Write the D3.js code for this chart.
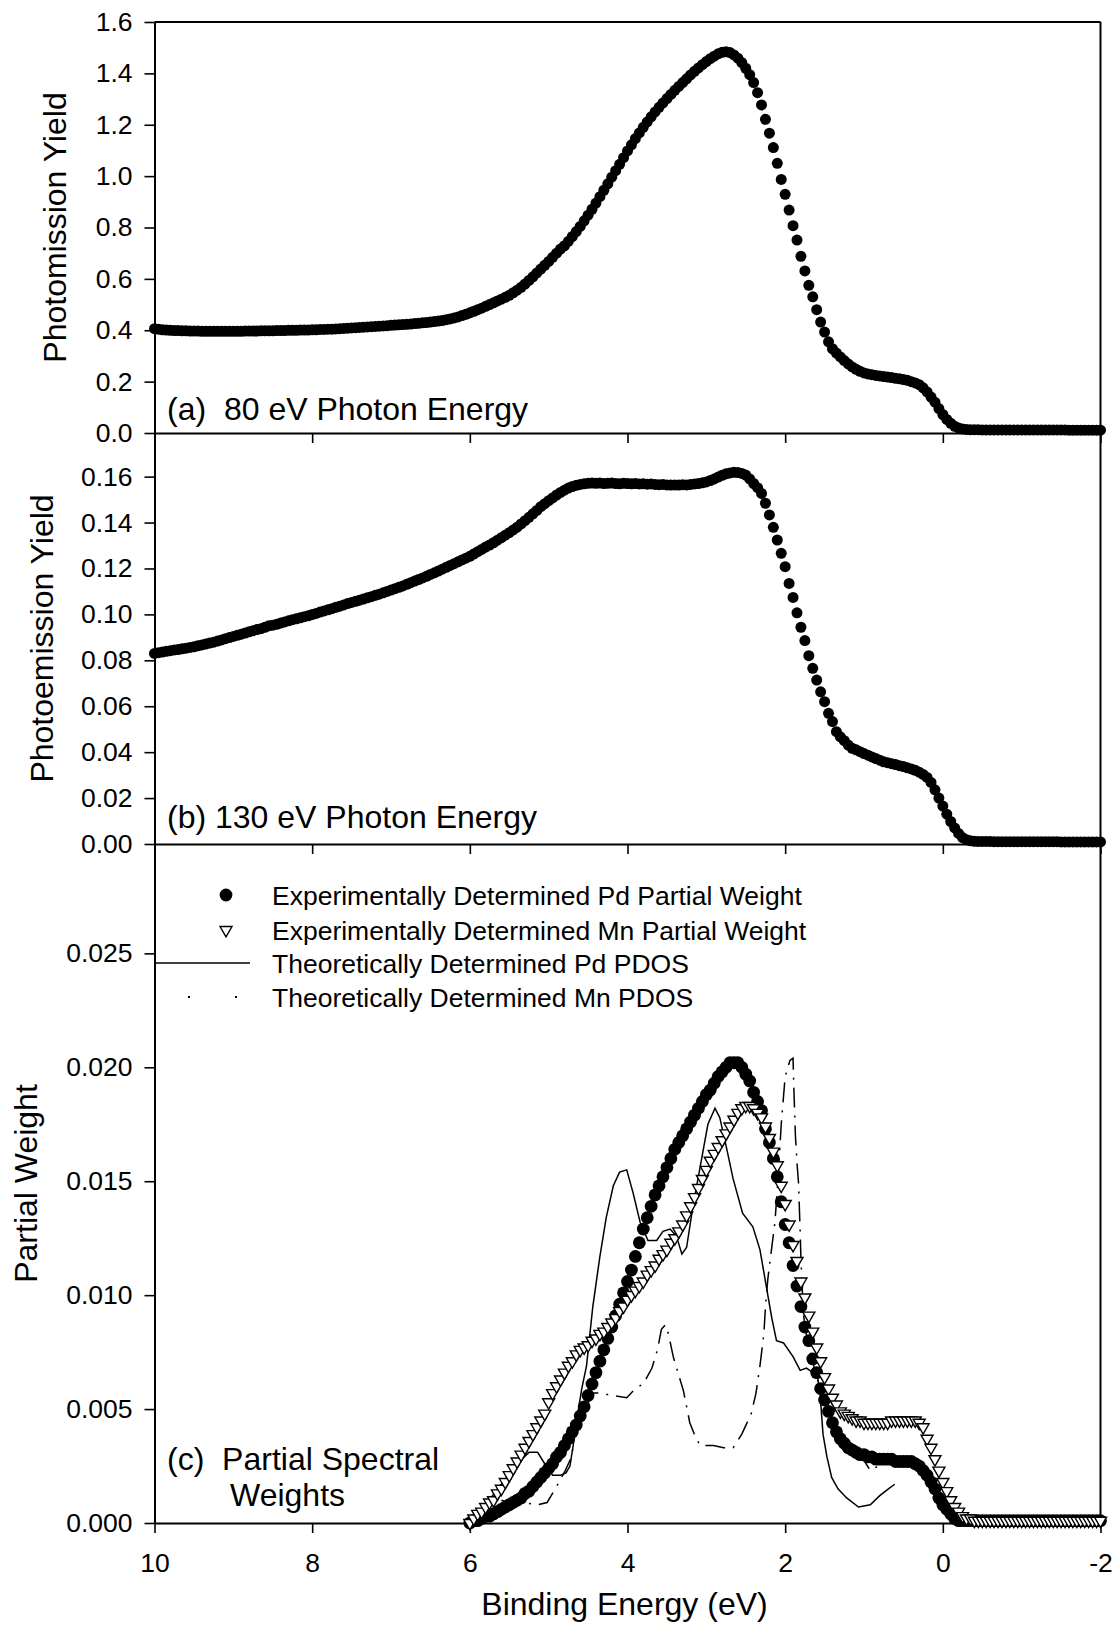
<!DOCTYPE html>
<html>
<head>
<meta charset="utf-8">
<script src="https://cdn.jsdelivr.net/npm/d3@7"></script>
<style>
body { margin: 0; background: #fff; }
text { font-family: "Liberation Sans", Arial, sans-serif; fill: #000; }
</style>
</head>
<body>
<div id="chart"></div>
<script>
// spectra were recorded on a fixed 0.05 eV binding energy grid
const gridStep = 0.05;
const gridStartAB = 10;   // panels (a) and (b): 10 eV down to -2 eV
const gridStartC = 6;     // panel (c): 6 eV down to -2 eV

// (a) 80 eV photon energy, photoemission yield
const yield80 = [
  0.406,0.404,0.402,0.401,0.400,0.399,0.399,0.398,0.398,0.397,0.397,0.397,0.396,0.396,0.396,0.396,0.396,0.396,0.396,0.396,
  0.396,0.396,0.396,0.397,0.397,0.397,0.397,0.398,0.398,0.398,0.398,0.399,0.399,0.399,0.400,0.400,0.400,0.401,0.401,0.401,
  0.402,0.402,0.403,0.403,0.404,0.404,0.405,0.406,0.407,0.408,0.409,0.410,0.411,0.412,0.413,0.414,0.415,0.416,0.417,0.418,
  0.419,0.420,0.421,0.422,0.423,0.424,0.426,0.427,0.429,0.430,0.432,0.434,0.436,0.438,0.441,0.444,0.448,0.452,0.457,0.462,
  0.468,0.474,0.480,0.486,0.493,0.500,0.507,0.514,0.521,0.528,0.536,0.546,0.556,0.567,0.580,0.594,0.608,0.623,0.638,0.653,
  0.668,0.684,0.700,0.716,0.729,0.746,0.765,0.784,0.804,0.826,0.848,0.871,0.895,0.920,0.945,0.970,0.996,1.021,1.046,1.072,
  1.098,1.122,1.146,1.168,1.190,1.211,1.231,1.250,1.268,1.285,1.302,1.318,1.334,1.349,1.364,1.379,1.394,1.408,1.421,1.434,
  1.446,1.457,1.467,1.476,1.482,1.484,1.481,1.472,1.459,1.442,1.420,1.395,1.364,1.325,1.277,1.221,1.167,1.111,1.050,0.987,
  0.929,0.868,0.807,0.751,0.688,0.631,0.575,0.530,0.480,0.432,0.393,0.355,0.328,0.311,0.296,0.282,0.269,0.257,0.248,0.240,
  0.234,0.230,0.227,0.224,0.222,0.220,0.218,0.216,0.213,0.211,0.208,0.205,0.200,0.195,0.188,0.176,0.160,0.140,0.120,0.095,
  0.072,0.053,0.038,0.026,0.019,0.016,0.014,0.013,0.013,0.013,0.012,0.012,0.012,0.012,0.012,0.012,0.012,0.012,0.012,0.012,
  0.012,0.012,0.012,0.012,0.012,0.012,0.012,0.012,0.012,0.012,0.012,0.012,0.011,0.011,0.011,0.011,0.011,0.011,0.011,0.011,
  0.011
];

// (b) 130 eV photon energy, photoemission yield
const yield130 = [
  0.0830,0.0833,0.0836,0.0839,0.0842,0.0845,0.0847,0.0850,0.0853,0.0856,0.0859,0.0863,0.0867,0.0871,0.0875,0.0879,0.0884,0.0889,0.0894,0.0899,
  0.0904,0.0909,0.0914,0.0919,0.0924,0.0929,0.0934,0.0938,0.0944,0.0950,0.0953,0.0957,0.0962,0.0967,0.0972,0.0977,0.0981,0.0985,0.0990,0.0994,
  0.0999,0.1004,0.1010,0.1015,0.1020,0.1025,0.1031,0.1036,0.1041,0.1047,0.1052,0.1057,0.1062,0.1067,0.1072,0.1077,0.1083,0.1088,0.1094,0.1100,
  0.1106,0.1112,0.1118,0.1124,0.1131,0.1138,0.1145,0.1152,0.1159,0.1166,0.1174,0.1181,0.1189,0.1197,0.1205,0.1213,0.1221,0.1229,0.1237,0.1245,
  0.1253,0.1263,0.1273,0.1283,0.1293,0.1302,0.1312,0.1323,0.1334,0.1345,0.1356,0.1368,0.1380,0.1394,0.1408,0.1423,0.1438,0.1453,0.1469,0.1482,
  0.1495,0.1507,0.1520,0.1531,0.1541,0.1550,0.1557,0.1562,0.1566,0.1569,0.1571,0.1572,0.1571,0.1572,0.1570,0.1571,0.1572,0.1570,0.1569,0.1571,
  0.1570,0.1569,0.1570,0.1568,0.1569,0.1567,0.1568,0.1566,0.1565,0.1566,0.1564,0.1563,0.1564,0.1563,0.1565,0.1564,0.1566,0.1568,0.1570,0.1573,
  0.1577,0.1583,0.1590,0.1598,0.1606,0.1612,0.1616,0.1619,0.1618,0.1614,0.1607,0.1590,0.1570,0.1552,0.1527,0.1484,0.1433,0.1379,0.1324,0.1266,
  0.1208,0.1135,0.1074,0.1007,0.0944,0.0886,0.0820,0.0765,0.0714,0.0663,0.0620,0.0569,0.0533,0.0489,0.0467,0.0450,0.0431,0.0417,0.0410,0.0402,
  0.0394,0.0387,0.0379,0.0372,0.0365,0.0358,0.0354,0.0350,0.0346,0.0341,0.0337,0.0332,0.0327,0.0321,0.0313,0.0303,0.0290,0.0268,0.0236,0.0200,
  0.0165,0.0130,0.0098,0.0070,0.0046,0.0028,0.0018,0.0014,0.0012,0.0011,0.0011,0.0011,0.0011,0.0010,0.0010,0.0010,0.0010,0.0010,0.0010,0.0010,
  0.0010,0.0010,0.0010,0.0010,0.0010,0.0010,0.0010,0.0010,0.0010,0.0010,0.0009,0.0009,0.0009,0.0009,0.0009,0.0009,0.0009,0.0009,0.0009,0.0009,
  0.0009
];

// (c) experimentally determined partial weights, 6 eV down to -2 eV
const pdWeight = [
  0.0000,0.0001,0.0001,0.0002,0.0003,0.0003,0.0004,0.0005,0.0006,0.0007,0.0008,0.0009,0.0010,0.0011,0.0013,0.0014,0.0016,0.0018,0.0020,0.0022,
  0.0024,0.0026,0.0029,0.0031,0.0034,0.0037,0.0040,0.0043,0.0047,0.0051,0.0056,0.0061,0.0066,0.0071,0.0076,0.0081,0.0086,0.0091,0.0096,0.0101,
  0.0106,0.0111,0.0117,0.0123,0.0129,0.0134,0.0139,0.0144,0.0148,0.0152,0.0156,0.0160,0.0164,0.0167,0.0170,0.0173,0.0176,0.0179,0.0182,0.0185,
  0.0188,0.0190,0.0193,0.0196,0.0198,0.0200,0.0202,0.0202,0.0202,0.0200,0.0197,0.0194,0.0189,0.0185,0.0181,0.0173,0.0167,0.0160,0.0152,0.0141,
  0.0131,0.0123,0.0113,0.0104,0.0095,0.0086,0.0080,0.0072,0.0066,0.0059,0.0054,0.0049,0.0044,0.0040,0.0037,0.0035,0.0033,0.0032,0.0031,0.0030,
  0.0030,0.0029,0.0029,0.0028,0.0028,0.0028,0.0028,0.0028,0.0027,0.0027,0.0027,0.0027,0.0027,0.0026,0.0025,0.0023,0.0021,0.0018,0.0015,0.0011,
  0.0008,0.0006,0.0004,0.0002,0.0001,0.0001,0.0001,0.0001,0.0001,0.0001,0.0001,0.0001,0.0001,0.0001,0.0001,0.0001,0.0001,0.0001,0.0001,0.0001,
  0.0001,0.0001,0.0001,0.0001,0.0001,0.0001,0.0001,0.0001,0.0001,0.0001,0.0001,0.0001,0.0001,0.0001,0.0001,0.0001,0.0001,0.0001,0.0001,0.0001,
  0.0001
];
const mnWeight = [
  0.0000,0.0002,0.0004,0.0005,0.0007,0.0009,0.0010,0.0013,0.0015,0.0018,0.0021,0.0024,0.0027,0.0030,0.0033,0.0036,0.0039,0.0042,0.0045,0.0048,
  0.0053,0.0057,0.0060,0.0063,0.0066,0.0069,0.0071,0.0074,0.0076,0.0077,0.0078,0.0080,0.0081,0.0083,0.0084,0.0086,0.0088,0.0090,0.0093,0.0095,
  0.0098,0.0100,0.0102,0.0104,0.0106,0.0109,0.0111,0.0113,0.0116,0.0118,0.0120,0.0123,0.0125,0.0128,0.0131,0.0135,0.0139,0.0143,0.0147,0.0151,
  0.0155,0.0159,0.0162,0.0165,0.0168,0.0171,0.0174,0.0177,0.0180,0.0182,0.0183,0.0183,0.0182,0.0180,0.0178,0.0174,0.0169,0.0163,0.0157,0.0148,
  0.0140,0.0131,0.0122,0.0115,0.0106,0.0099,0.0091,0.0084,0.0077,0.0071,0.0064,0.0059,0.0055,0.0052,0.0049,0.0048,0.0047,0.0046,0.0045,0.0045,
  0.0044,0.0044,0.0044,0.0044,0.0044,0.0044,0.0044,0.0045,0.0045,0.0045,0.0045,0.0045,0.0045,0.0045,0.0044,0.0042,0.0037,0.0033,0.0028,0.0023,
  0.0018,0.0014,0.0010,0.0007,0.0005,0.0003,0.0002,0.0002,0.0001,0.0001,0.0001,0.0001,0.0001,0.0001,0.0001,0.0001,0.0001,0.0001,0.0001,0.0001,
  0.0001,0.0001,0.0001,0.0001,0.0001,0.0001,0.0001,0.0001,0.0001,0.0001,0.0001,0.0001,0.0001,0.0001,0.0001,0.0001,0.0001,0.0001,0.0001,0.0001,
  0.0001
];

// (c) theoretical PDOS curves (energy, value)
const pdosPdEnergy = [6.00,5.80,5.60,5.40,5.25,5.14,5.05,4.95,4.85,4.78,4.73,4.68,4.65,4.58,4.52,4.44,4.35,4.27,4.18,4.10,
  4.01,3.93,3.84,3.74,3.63,3.55,3.46,3.38,3.31,3.25,3.17,3.08,2.98,2.89,2.83,2.74,2.66,2.54,2.41,2.32,
  2.24,2.17,2.11,2.02,1.90,1.81,1.73,1.65,1.60,1.56,1.52,1.47,1.41,1.33,1.22,1.07,0.92,0.80,0.69,0.61];
const pdosPd = [0.0001,0.0008,0.0017,0.0026,0.0031,0.0031,0.0026,0.0021,0.0021,0.0022,0.0025,0.0036,0.0044,0.0059,0.0069,0.0095,0.0117,0.0134,0.0148,0.0154,
  0.0155,0.0145,0.0132,0.0124,0.0124,0.0128,0.0129,0.0126,0.0118,0.0121,0.0139,0.0156,0.0175,0.0182,0.0178,0.0164,0.0151,0.0136,0.0130,0.0120,
  0.0104,0.0090,0.0080,0.0079,0.0073,0.0067,0.0068,0.0066,0.0066,0.0058,0.0039,0.0029,0.0020,0.0015,0.0011,0.0007,0.0008,0.0012,0.0015,0.0017];

const pdosMnEnergy = [5.60,5.50,5.35,5.14,5.02,4.90,4.79,4.71,4.67,4.60,4.52,4.45,4.35,4.20,4.01,3.90,3.80,3.69,3.62,3.57,
  3.52,3.48,3.42,3.36,3.29,3.21,3.14,3.08,2.91,2.78,2.66,2.55,2.43,2.37,2.32,2.27,2.25,2.22,2.17,2.13,
  2.09,2.05,2.00,1.94,1.90,1.89,1.87,1.85,1.83,1.81,1.80,1.77,1.72,1.66,1.60,1.55,1.50,1.45,1.40,1.35,
  1.30,1.25,1.20,1.10,1.01,0.92,0.82];
const pdosMn = [0.0010,0.0009,0.0009,0.0008,0.0009,0.0016,0.0023,0.0029,0.0038,0.0043,0.0051,0.0057,0.0057,0.0056,0.0055,0.0059,0.0061,0.0068,0.0076,0.0085,
  0.0087,0.0083,0.0073,0.0066,0.0058,0.0044,0.0038,0.0034,0.0034,0.0033,0.0033,0.0039,0.0048,0.0057,0.0069,0.0083,0.0095,0.0107,0.0121,0.0132,
  0.0151,0.0175,0.0196,0.0203,0.0204,0.0191,0.0170,0.0158,0.0149,0.0128,0.0116,0.0092,0.0080,0.0072,0.0064,0.0058,0.0053,0.0049,0.0044,0.0040,
  0.0037,0.0034,0.0033,0.0031,0.0028,0.0023,0.0025];

const xTicks = [10, 8, 6, 4, 2, 0, -2];
const ticksA = [0, 0.2, 0.4, 0.6, 0.8, 1.0, 1.2, 1.4, 1.6];
const ticksB = [0, 0.02, 0.04, 0.06, 0.08, 0.10, 0.12, 0.14, 0.16];
const ticksC = [0, 0.005, 0.010, 0.015, 0.020, 0.025];

const legendLabels = [
  "Experimentally Determined Pd Partial Weight",
  "Experimentally Determined Mn Partial Weight",
  "Theoretically Determined Pd PDOS",
  "Theoretically Determined Mn PDOS"
];

const width = 1114, height = 1625;
const left = 154.5, right = 1100.5;
const tickFont = 26.5, titleFont = 32;

const energiesAB = d3.range(yield80.length).map(i => +(gridStartAB - i * gridStep).toFixed(2));
const energiesC = d3.range(pdWeight.length).map(i => +(gridStartC - i * gridStep).toFixed(2));

const svg = d3.select("#chart").append("svg")
  .attr("width", width)
  .attr("height", height);
svg.append("rect").attr("width", width).attr("height", height).attr("fill", "#fff");

const x = d3.scaleLinear().domain([10, -2]).range([left, right]);

const panels = [
  { y: d3.scaleLinear().domain([0, 1.6]).range([433, 22]), ticks: ticksA, fmt: d3.format(".1f"),
    title: "Photomission Yield", titleX: 66, label: "(a)  80 eV Photon Energy", labelY: 420 },
  { y: d3.scaleLinear().domain([0, 0.179]).range([844, 433]), ticks: ticksB, fmt: d3.format(".2f"),
    title: "Photoemission Yield", titleX: 53, label: "(b) 130 eV Photon Energy", labelY: 828 },
  { y: d3.scaleLinear().domain([0, 0.0298]).range([1523, 844]), ticks: ticksC, fmt: d3.format(".3f"),
    title: "Partial Weight", titleX: 37, label: "(c)  Partial Spectral", labelY: 1470 }
];

// frame, axes and titles for each panel
panels.forEach((p, i) => {
  const [bottom, top] = p.y.range();

  const yAxis = svg.append("g")
    .attr("transform", `translate(${left},0)`)
    .call(d3.axisLeft(p.y).tickValues(p.ticks).tickFormat(p.fmt).tickSize(10).tickSizeOuter(0).tickPadding(12));
  yAxis.select(".domain").attr("stroke-width", 2);
  yAxis.selectAll(".tick line").attr("stroke-width", 1.6);
  yAxis.selectAll(".tick text").attr("font-size", tickFont).attr("font-family", null);

  const xAxis = svg.append("g")
    .attr("transform", `translate(0,${bottom})`)
    .call(d3.axisBottom(x).tickValues(xTicks).tickSize(10).tickSizeOuter(0).tickPadding(20)
      .tickFormat(i === 2 ? (d => String(d)) : () => ""));
  xAxis.select(".domain").attr("stroke-width", 2);
  xAxis.selectAll(".tick line").attr("stroke-width", 1.6);
  xAxis.selectAll(".tick text").attr("font-size", tickFont).attr("font-family", null);

  svg.append("line")
    .attr("x1", right).attr("x2", right).attr("y1", top).attr("y2", bottom)
    .attr("stroke", "#000").attr("stroke-width", 2);
  if (i === 0) {
    svg.append("line")
      .attr("x1", left).attr("x2", right).attr("y1", top).attr("y2", top)
      .attr("stroke", "#000").attr("stroke-width", 2);
  }

  svg.append("text")
    .attr("transform", `translate(${p.titleX},${(top + bottom) / 2}) rotate(-90)`)
    .attr("text-anchor", "middle")
    .attr("font-size", titleFont)
    .text(p.title);

  svg.append("text")
    .attr("x", 167).attr("y", p.labelY)
    .attr("font-size", titleFont)
    .style("white-space", "pre")
    .text(p.label);
});

svg.append("text")
  .attr("x", 230).attr("y", 1506)
  .attr("font-size", titleFont)
  .text("Weights");

svg.append("text")
  .attr("x", (left + right) / 2 - 3).attr("y", 1615)
  .attr("text-anchor", "middle")
  .attr("font-size", titleFont)
  .text("Binding Energy (eV)");

// panels (a) and (b): filled circles
[yield80, yield130].forEach((vals, i) => {
  const y = panels[i].y;
  svg.append("g")
    .selectAll("circle")
    .data(vals)
    .join("circle")
    .attr("cx", (d, j) => x(energiesAB[j]))
    .attr("cy", d => y(d))
    .attr("r", 5.5)
    .attr("fill", "#000");
});

// panel (c)
const yc = panels[2].y;
const line = d3.line().x(d => x(d[0])).y(d => yc(d[1]));

svg.append("path")
  .attr("d", line(d3.zip(pdosPdEnergy, pdosPd)))
  .attr("fill", "none").attr("stroke", "#000").attr("stroke-width", 1.5);

svg.append("path")
  .attr("d", line(d3.zip(pdosMnEnergy, pdosMn)))
  .attr("fill", "none").attr("stroke", "#000").attr("stroke-width", 1.5)
  .attr("stroke-dasharray", "20,8,2,8");

svg.append("g")
  .selectAll("circle")
  .data(pdWeight)
  .join("circle")
  .attr("cx", (d, j) => x(energiesC[j]))
  .attr("cy", d => yc(d))
  .attr("r", 6.4)
  .attr("fill", "#000");

const tri = "M-6,-3.5L6,-3.5L0,6.9Z";
svg.append("g")
  .selectAll("path")
  .data(mnWeight)
  .join("path")
  .attr("d", tri)
  .attr("transform", (d, j) => `translate(${x(energiesC[j])},${yc(d)})`)
  .attr("fill", "#fff")
  .attr("stroke", "#000")
  .attr("stroke-width", 1.4);

// legend
const legendY = [895, 930, 963, 997];
const legend = svg.append("g");
legend.append("circle").attr("cx", 226).attr("cy", legendY[0]).attr("r", 6.4).attr("fill", "#000");
legend.append("path").attr("d", tri)
  .attr("transform", `translate(226,${legendY[1]})`)
  .attr("fill", "#fff").attr("stroke", "#000").attr("stroke-width", 1.4);
legend.append("line")
  .attr("x1", left).attr("x2", 250).attr("y1", legendY[2]).attr("y2", legendY[2])
  .attr("stroke", "#000").attr("stroke-width", 1.5);
legend.append("line")
  .attr("x1", left).attr("x2", 250).attr("y1", legendY[3]).attr("y2", legendY[3])
  .attr("stroke", "#000").attr("stroke-width", 2)
  .attr("stroke-dasharray", "2,45")
  .attr("stroke-dashoffset", -33.5);
legend.selectAll("text")
  .data(legendLabels)
  .join("text")
  .attr("x", 272)
  .attr("y", (d, i) => legendY[i])
  .attr("dy", "0.36em")
  .attr("font-size", 26.5)
  .text(d => d);
</script>
</body>
</html>
